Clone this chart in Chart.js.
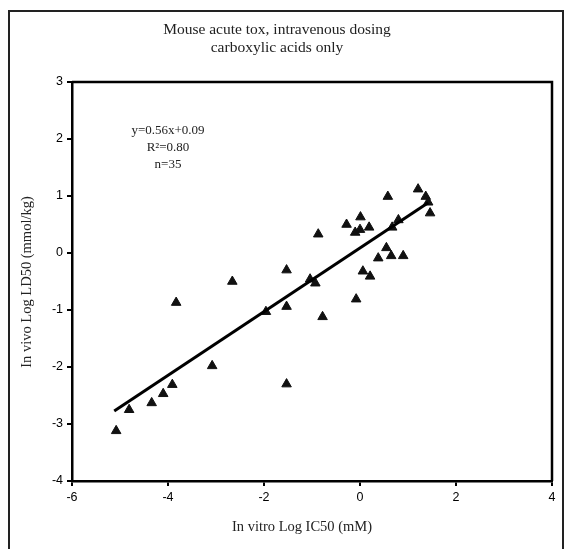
<!DOCTYPE html>
<html>
<head>
<meta charset="utf-8">
<script src="https://cdn.jsdelivr.net/npm/chart.js@4/dist/chart.umd.min.js"></script>
<style>
  html, body { margin: 0; padding: 0; background: #fff; }
  #wrap { width: 568px; height: 549px; }
</style>
</head>
<body>
<div id="wrap"><canvas id="chart" width="568" height="549"></canvas></div>
<script>
// in vitro log IC50 (mM) -> in vivo log LD50 (mmol/kg)
const icValues = [
  -5.08, -4.81, -4.34, -4.10, -3.91, -3.83,
  -3.08, -2.66, -1.96, -1.53, -1.53, -1.53, -1.04, -0.93, -0.78,
  -0.87, -0.28, -0.10, 0.00, 0.01, 0.19, 0.58, 0.67, 0.80,
  0.55, 0.65, 0.38, 0.90, 0.06, 0.21, -0.08,
  1.21, 1.37, 1.42, 1.46
];
const ldValues = [
  -3.12, -2.75, -2.63, -2.47, -2.31, -0.87,
  -1.98, -0.50, -1.03, -0.30, -0.94, -2.30, -0.46, -0.53, -1.12,
  0.33, 0.50, 0.36, 0.41, 0.63, 0.45, 0.99, 0.45, 0.58,
  0.09, -0.05, -0.09, -0.05, -0.32, -0.41, -0.81,
  1.12, 0.99, 0.89, 0.70
];

// ends of the drawn fit line
const fitX = [-5.12, 1.42];
const fitY = [-2.77, 0.88];

const xTicks = [-6, -4, -2, 0, 2, 4];
const yTicks = [-4, -3, -2, -1, 0, 1, 2, 3];

const titleLines = ["Mouse acute tox, intravenous dosing", "carboxylic acids only"];
const statLines = ["y=0.56x+0.09", "R\u00B2=0.80", "n=35"];
const xTitle = "In vitro Log IC50 (mM)";
const yTitle = "In vivo Log LD50 (mmol/kg)";

const serif = '"Liberation Serif", "DejaVu Serif", serif';
const sans = '"Liberation Sans", Arial, sans-serif';

const points = icValues.map((x, i) => ({ x: x, y: ldValues[i] }));
const fitLine = fitX.map((x, i) => ({ x: x, y: fitY[i] }));

// frame, box round the plot, titles and the fit text
const decorations = {
  id: "decorations",
  beforeDraw(chart) {
    const ctx = chart.ctx;
    ctx.save();
    ctx.fillStyle = "#fff";
    ctx.fillRect(0, 0, chart.width, chart.height);
    ctx.strokeStyle = "#222";
    ctx.lineWidth = 2;
    ctx.strokeRect(9, 11, 554, 560);
    ctx.restore();
  },
  afterDraw(chart) {
    const ctx = chart.ctx;
    const a = chart.chartArea;
    ctx.save();
    ctx.strokeStyle = "#000";
    ctx.lineWidth = 2.5;
    ctx.beginPath();
    ctx.moveTo(a.left, a.top);
    ctx.lineTo(a.right, a.top);
    ctx.lineTo(a.right, a.bottom);
    ctx.stroke();

    ctx.fillStyle = "#222";
    ctx.textAlign = "center";
    ctx.textBaseline = "middle";
    ctx.font = "15.5px " + serif;
    titleLines.forEach((t, i) => ctx.fillText(t, 277, 30 + i * 18));

    ctx.font = "13px " + serif;
    statLines.forEach((t, i) => ctx.fillText(t, 168, 131 + i * 17));

    ctx.font = "14.5px " + serif;
    ctx.fillText(xTitle, 302, 527);
    ctx.translate(27, 282);
    ctx.rotate(-Math.PI / 2);
    ctx.fillText(yTitle, 0, 0);
    ctx.restore();
  }
};

new Chart(document.getElementById("chart"), {
  type: "scatter",
  data: {
    datasets: [
      {
        label: "compounds",
        data: points,
        pointStyle: "triangle",
        pointRadius: 5.5,
        pointBackgroundColor: "#111",
        pointBorderColor: "#111",
        pointBorderWidth: 1,
        order: 2
      },
      {
        type: "line",
        label: "fit",
        data: fitLine,
        borderColor: "#000",
        borderWidth: 3,
        pointRadius: 0,
        fill: false,
        order: 1
      }
    ]
  },
  options: {
    responsive: false,
    animation: false,
    devicePixelRatio: 1,
    layout: { padding: { left: 0, right: 16, top: 82, bottom: 0 } },
    plugins: {
      legend: { display: false },
      tooltip: { enabled: false }
    },
    scales: {
      x: {
        type: "linear",
        min: -6,
        max: 4,
        afterFit: (scale) => { scale.height = 68; },
        afterBuildTicks: (scale) => { scale.ticks = xTicks.map((v) => ({ value: v })); },
        grid: { drawOnChartArea: false, drawTicks: true, tickLength: 5, color: "#000", lineWidth: 2 },
        border: { display: true, color: "#000", width: 2.5 },
        ticks: { color: "#000", font: { family: sans, size: 12.5 }, padding: 4, maxRotation: 0 }
      },
      y: {
        type: "linear",
        min: -4,
        max: 3,
        afterFit: (scale) => { scale.width = 72; },
        afterBuildTicks: (scale) => { scale.ticks = yTicks.map((v) => ({ value: v })); },
        grid: { drawOnChartArea: false, drawTicks: true, tickLength: 5, color: "#000", lineWidth: 2 },
        border: { display: true, color: "#000", width: 2.5 },
        ticks: { color: "#000", font: { family: sans, size: 12.5 }, padding: 4 }
      }
    }
  },
  plugins: [decorations]
});
</script>
</body>
</html>
